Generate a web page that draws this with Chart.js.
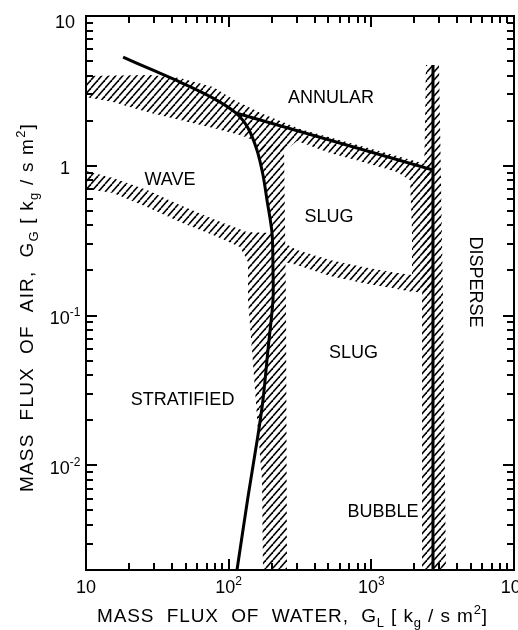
<!DOCTYPE html>
<html>
<head>
<meta charset="utf-8">
<script src="https://cdn.jsdelivr.net/npm/chart.js@4.4.1/dist/chart.umd.min.js"></script>
<style>
  html, body { margin: 0; padding: 0; background: #fff; }
  #wrap { width: 518px; height: 630px; }
</style>
</head>
<body>
<div id="wrap"><canvas id="flowMap" width="518" height="630"></canvas></div>
<script>
// G_L (water) on x, G_G (air) on y, both kg/s m2
var xTicks = [10, 100, 1000, 10000];
var xTickText = [["10", ""], ["10", "2"], ["10", "3"], ["10", "4"]];
var yTicks = [10, 1, 0.1, 0.01];
var yTickText = [["10", ""], ["1", ""], ["10", "-1"], ["10", "-2"]];
var yDecades = [0.001, 0.01, 0.1, 1];   // decades that get minor ticks on the y axis

// solid boundaries
var waveStratLine = [[18.2, 5.32], [28.1, 4.43], [45.6, 3.62], [77.7, 2.83], [112.6, 2.25], [136.6, 1.79],
  [158, 1.27], [174, 0.868], [185.6, 0.591], [201.3, 0.356], [204.5, 0.201], [204.5, 0.127],
  [188.6, 0.0589], [174, 0.0273], [160.5, 0.0159], [136.6, 0.00614], [114.4, 0.002]];
var annularLine = [[112.6, 2.25], [2705, 0.937]];
var disperseLine = [[2705, 4.71], [2705, 0.002]];

// hatched transition bands (outline, G_L, G_G)
var bandUpper = [[10, 3.976], [28.1, 4.04], [45.6, 3.855], [77.7, 3.357], [112.6, 2.707], [174, 2.217],
  [316.2, 1.76], [2705, 0.9965], [2705, 0.855], [1866, 0.8035], [1512, 0.909], [873.9, 1.06],
  [513.1, 1.217], [301.2, 1.463], [252.2, 1.27], [158, 1.27], [148.1, 1.486], [120, 1.605],
  [77.7, 1.79], [45.6, 2.021], [26.77, 2.286], [15.46, 2.666], [10, 2.879]];
var bandLower = [[10, 0.923], [15.46, 0.829], [26.77, 0.689], [45.6, 0.547], [77.7, 0.441], [134.4, 0.361],
  [201.3, 0.356], [194.9, 0.3195], [136.6, 0.2277], [120, 0.2868], [77.7, 0.345], [45.6, 0.4214],
  [26.77, 0.53], [15.46, 0.658], [10, 0.6996]];
var bandCurve = [[158, 1.355], [244.2, 1.355], [252.2, 0.127], [256.3, 0.002], [174, 0.002], [171.2, 0.00797],
  [160.5, 0.01721], [145.7, 0.0589], [136.6, 0.127], [136.6, 0.2277], [201.3, 0.356], [185.6, 0.591],
  [174, 0.868], [158, 1.27]];
var bandMiddle = [[244.2, 0.305], [301.2, 0.274], [513.1, 0.2348], [873.9, 0.2109], [1512, 0.1923], [1959, 0.1865],
  [1959, 0.1436], [1512, 0.1504], [873.9, 0.165], [513.1, 0.1837], [301.2, 0.2175], [244.2, 0.2277]];
var bandSlugEdge = [[1866, 0.8035], [2705, 0.937], [2705, 0.1436], [1959, 0.1436], [1928, 0.3726]];
var bandDisperse = [[2416, 4.71], [2981, 4.71], [3180, 0.127], [3336, 0.002], [2265, 0.002], [2265, 0.127]];

var regionText = ["ANNULAR", "WAVE", "SLUG", "SLUG", "STRATIFIED", "BUBBLE", "DISPERSE"];
var regionAt = [[521, 2.92], [38.8, 0.816], [505, 0.469], [750, 0.0575], [47.5, 0.0279], [1207, 0.00499], [5503, 0.1675]];

var FONT = "'Liberation Sans', Arial, Helvetica, sans-serif";

function toPts(arr) {
  return arr.map(function (p) { return { x: p[0], y: p[1] }; });
}

function makeHatch() {
  var c = document.createElement("canvas");
  c.width = 7; c.height = 8;
  var g = c.getContext("2d");
  g.strokeStyle = "#000";
  g.lineWidth = 1.6;
  for (var k = -1; k <= 1; k++) {
    g.beginPath();
    g.moveTo(k * 7, 8);
    g.lineTo(k * 7 + 7, 0);
    g.stroke();
  }
  return g.createPattern(c, "repeat");
}
var hatchFill = makeHatch();

function boundary(arr, tension) {
  return { data: toPts(arr), borderColor: "#000", borderWidth: 3, fill: false,
    pointRadius: 0, tension: tension, borderCapStyle: "butt" };
}
function band(arr) {
  return { data: toPts(arr), borderColor: "rgba(0,0,0,0)", borderWidth: 0, backgroundColor: hatchFill,
    fill: "shape", pointRadius: 0, tension: 0 };
}

// text with sub/superscript pieces: [text, kind]
function runsWidth(ctx, runs, big, small) {
  var w = 0;
  runs.forEach(function (r) {
    ctx.font = (r[1] === "n" ? big : small) + "px " + FONT;
    w += ctx.measureText(r[0]).width;
  });
  return w;
}
function drawRuns(ctx, runs, x, y, big, small) {
  runs.forEach(function (r) {
    ctx.font = (r[1] === "n" ? big : small) + "px " + FONT;
    var dy = r[1] === "sub" ? 5 : (r[1] === "sup" ? -8 : 0);
    ctx.fillText(r[0], x, y + dy);
    x += ctx.measureText(r[0]).width;
  });
}
function fitSpacing(ctx, runs, big, small, target) {
  var n = 0;
  runs.forEach(function (r) { n += r[0].length; });
  if (!("letterSpacing" in ctx)) return;
  ctx.letterSpacing = "0px";
  var w = runsWidth(ctx, runs, big, small);
  ctx.letterSpacing = ((target - w) / n).toFixed(2) + "px";
}

var frameAndText = {
  id: "frameAndText",
  afterDatasetsDraw: function (chart) {
    var ctx = chart.ctx, a = chart.chartArea;
    var xs = chart.scales.x, ys = chart.scales.y;
    var L = a.left, R = a.right, T = a.top, B = a.bottom;
    ctx.save();
    ctx.fillStyle = "#000";
    ctx.strokeStyle = "#000";

    ctx.lineWidth = 2;
    ctx.strokeRect(L, T, R - L, B - T);

    // tick marks pointing inwards on all four sides
    xTicks.forEach(function (d) {
      for (var m = 1; m <= 9; m++) {
        var v = d * m;
        if (v <= xs.min || v >= xs.max) continue;
        var px = Math.round(xs.getPixelForValue(v));
        var len = m === 1 ? 11 : 7;
        ctx.fillRect(px - 1, B - len, 2, len);
        ctx.fillRect(px - 1, T, 2, len);
      }
    });
    yDecades.forEach(function (d) {
      for (var m = 1; m <= 9; m++) {
        var v = d * m;
        if (v <= ys.min * 1.001 || v >= ys.max * 0.999) continue;
        var py = Math.round(ys.getPixelForValue(v));
        var len = m === 1 ? 11 : 7;
        ctx.fillRect(L, py - 1, len, 2);
        ctx.fillRect(R - len, py - 1, len, 2);
      }
    });

    // tick labels
    ctx.textBaseline = "alphabetic";
    ctx.textAlign = "left";
    xTicks.forEach(function (v, i) {
      var runs = [[xTickText[i][0], "n"], [xTickText[i][1], "sup"]];
      var w = runsWidth(ctx, runs, 18, 12);
      var px = xs.getPixelForValue(v);
      drawRuns(ctx, runs, px - w / 2, B + 23, 18, 12);
    });
    yTicks.forEach(function (v, i) {
      var runs = [[yTickText[i][0], "n"], [yTickText[i][1], "sup"]];
      var w = runsWidth(ctx, runs, 18, 12);
      var py = Math.max(ys.getPixelForValue(v) + 2, 21);
      drawRuns(ctx, runs, 65 - w / 2, py + 6.5, 18, 12);
    });

    // regime names
    ctx.font = "18px " + FONT;
    ctx.textAlign = "center";
    regionText.forEach(function (s, i) {
      var px = xs.getPixelForValue(regionAt[i][0]);
      var py = ys.getPixelForValue(regionAt[i][1]);
      if (s === "DISPERSE") {
        ctx.save();
        ctx.translate(px, py);
        ctx.rotate(Math.PI / 2);
        ctx.fillText(s, 0, 6.5);
        ctx.restore();
      } else {
        ctx.fillText(s, px, py + 6.5);
      }
    });

    // axis titles
    ctx.textAlign = "left";
    var xRuns = [["MASS  FLUX  OF  WATER,  G", "n"], ["L", "sub"], [" [ k", "n"], ["g", "sub"],
      [" / s m", "n"], ["2", "sup"], ["]", "n"]];
    fitSpacing(ctx, xRuns, 19, 13, 391);
    var xw = runsWidth(ctx, xRuns, 19, 13);
    drawRuns(ctx, xRuns, 292.5 - xw / 2, 622, 19, 13);

    var yRuns = [["MASS  FLUX  OF  AIR,  G", "n"], ["G", "sub"], [" [ k", "n"], ["g", "sub"],
      [" / s m", "n"], ["2", "sup"], ["]", "n"]];
    fitSpacing(ctx, yRuns, 19, 13, 369);
    var yw = runsWidth(ctx, yRuns, 19, 13);
    ctx.translate(33, 307.5);
    ctx.rotate(-Math.PI / 2);
    drawRuns(ctx, yRuns, -yw / 2, 0, 19, 13);
    ctx.restore();
  }
};

new Chart(document.getElementById("flowMap"), {
  type: "line",
  data: {
    datasets: [
      boundary(waveStratLine, 0.3),
      boundary(annularLine, 0),
      boundary(disperseLine, 0),
      band(bandUpper),
      band(bandLower),
      band(bandCurve),
      band(bandMiddle),
      band(bandSlugEdge),
      band(bandDisperse)
    ]
  },
  options: {
    responsive: false,
    animation: false,
    events: [],
    layout: { padding: { top: 16, right: 4, left: 0, bottom: 0 } },
    plugins: { legend: { display: false }, tooltip: { enabled: false } },
    scales: {
      x: {
        type: "logarithmic", min: 10, max: 10000,
        ticks: { display: false }, grid: { display: false }, border: { display: false },
        afterFit: function (s) { s.height = 60; }
      },
      y: {
        type: "logarithmic", min: 0.002, max: 10,
        ticks: { display: false }, grid: { display: false }, border: { display: false },
        afterFit: function (s) { s.width = 86; }
      }
    }
  },
  plugins: [frameAndText]
});
</script>
</body>
</html>
